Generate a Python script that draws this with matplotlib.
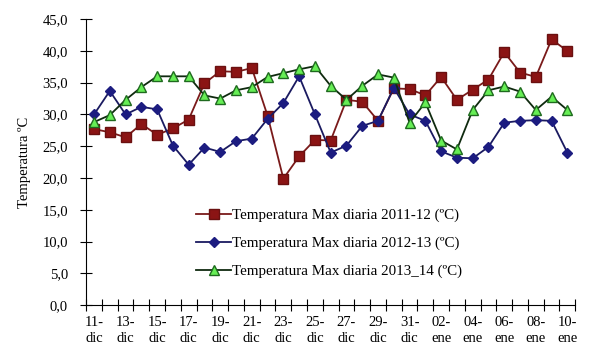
import numpy as np
import matplotlib.pyplot as plt
from matplotlib.ticker import FuncFormatter

plt.rcParams['font.family'] = ['Liberation Serif', 'DejaVu Serif']

DAYS = ["11-\ndic", "12-\ndic", "13-\ndic", "14-\ndic", "15-\ndic", "16-\ndic", "17-\ndic",
        "18-\ndic", "19-\ndic", "20-\ndic", "21-\ndic", "22-\ndic", "23-\ndic", "24-\ndic",
        "25-\ndic", "26-\ndic", "27-\ndic", "28-\ndic", "29-\ndic", "30-\ndic", "31-\ndic",
        "01-\nene", "02-\nene", "03-\nene", "04-\nene", "05-\nene", "06-\nene", "07-\nene",
        "08-\nene", "09-\nene", "10-\nene"]

t_2011_12 = [27.7, 27.2, 26.4, 28.5, 26.8, 27.8, 29.2, 34.9, 36.8, 36.7, 37.3,
             29.8, 19.9, 23.4, 26.0, 25.9, 32.3, 32.0, 29.0, 34.1, 34.0,
             33.0, 35.9, 32.3, 33.9, 35.5, 39.8, 36.6, 35.9, 41.8, 40.0]
t_2012_13 = [30.0, 33.7, 30.0, 31.2, 30.8, 25.1, 22.1, 24.8, 24.1, 25.8, 26.2,
             29.3, 31.8, 36.0, 30.0, 24.0, 25.1, 28.2, 29.0, 34.2, 30.0,
             29.0, 24.2, 23.2, 23.1, 24.9, 28.7, 29.0, 29.1, 29.0, 24.0]
t_2013_14 = [28.8, 29.9, 32.3, 34.3, 36.0, 36.0, 36.0, 33.0, 32.5, 33.8, 34.3,
             35.9, 36.5, 37.1, 37.6, 34.5, 32.3, 34.5, 36.3, 35.8, 28.7,
             31.9, 25.9, 24.5, 30.7, 33.8, 34.4, 33.6, 30.7, 32.8, 30.7]

x = np.arange(len(DAYS))

fig = plt.figure(figsize=(5.9, 3.54), dpi=100)
ax = fig.add_axes([0.146, 0.138, 0.829, 0.808])

ax.plot(x, t_2011_12, color='#7a1a1a', marker='s', markersize=7,
        markerfacecolor='#8b1414', markeredgecolor='#6a1010', linewidth=1.3,
        label="Temperatura Max diaria 2011-12 (ºC)")
ax.plot(x, t_2012_13, color='#1a1a60', marker='D', markersize=5,
        markerfacecolor='#1c1c80', markeredgecolor='#1c1c80', linewidth=1.3,
        label="Temperatura Max diaria 2012-13 (ºC)")
ax.plot(x, t_2013_14, color='#0f2a0f', marker='^', markersize=7,
        markerfacecolor='#66ee55', markeredgecolor='#1f6a1f', linewidth=1.3,
        label="Temperatura Max diaria 2013_14 (ºC)")

ax.set_xlim(-0.5, len(DAYS) - 0.5)
ax.set_ylim(0, 45)
ax.set_yticks(np.arange(0, 46, 5))
ax.yaxis.set_major_formatter(FuncFormatter(lambda v, p: f"{v:.1f}".replace('.', ',')))

# category ticks between days, labels every two days
ax.set_xticks(np.arange(-0.5, len(DAYS), 1))
ax.set_xticklabels([])
ax.set_xticks(x[::2], minor=True)
ax.set_xticklabels(DAYS[::2], minor=True, fontsize=10.5, linespacing=1.25)
ax.tick_params(axis='x', which='minor', length=0, pad=8)
ax.tick_params(axis='x', which='major', direction='inout', length=8, width=0.8)
ax.tick_params(axis='y', direction='inout', length=8, width=0.8, labelsize=10.5, pad=9)

for s in ['top', 'right']:
    ax.spines[s].set_visible(False)

ax.set_ylabel('Temperatura ºC', fontsize=10.5, labelpad=8)

ax.legend(loc='upper left', bbox_to_anchor=(0.198, 0.385), frameon=False, fontsize=10.8,
          handlelength=2.3, handletextpad=0.1, labelspacing=0.95)

plt.savefig('out.png', dpi=100)
